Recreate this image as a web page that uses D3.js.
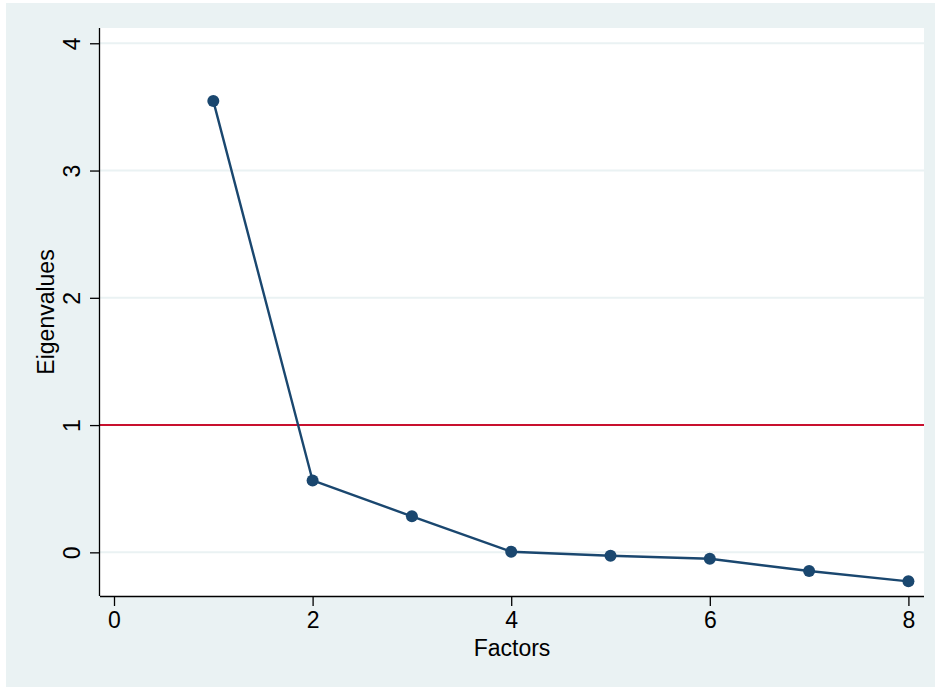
<!DOCTYPE html>
<html>
<head>
<meta charset="utf-8">
<script src="https://cdn.jsdelivr.net/npm/d3@7"></script>
<style>
  html, body { margin: 0; padding: 0; background: #ffffff; }
  svg { display: block; }
  text { font-family: "Liberation Sans", Arial, sans-serif; fill: #000; }
</style>
</head>
<body>
<svg id="chart" width="935" height="687"></svg>
<script>
// Scree plot of eigenvalues after factor analysis
const factors = [1, 2, 3, 4, 5, 6, 7, 8];
const eigenvalues = [3.547, 0.565, 0.283, 0.005, -0.027, -0.050, -0.147, -0.228];
const xTicks = [0, 2, 4, 6, 8];
const yTicks = [0, 1, 2, 3, 4];
const referenceLine = 1;

const W = 935, H = 687;
const plot = { left: 100, right: 924, top: 28, bottom: 596 };

const svg = d3.select("#chart");

// outer graph region
svg.append("rect")
  .attr("x", 6).attr("y", 3)
  .attr("width", W - 6).attr("height", H - 3)
  .attr("fill", "#eaf2f3");

// plot region
svg.append("rect")
  .attr("x", plot.left).attr("y", plot.top)
  .attr("width", plot.right - plot.left).attr("height", plot.bottom - plot.top)
  .attr("fill", "#ffffff");

const x = d3.scaleLinear().domain([-0.141, 8.157]).range([plot.left, plot.right]);
const y = d3.scaleLinear().domain([-0.343, 4.12]).range([plot.bottom, plot.top]);

// horizontal gridlines
svg.append("g")
  .selectAll("line")
  .data(yTicks)
  .join("line")
  .attr("x1", plot.left).attr("x2", plot.right)
  .attr("y1", d => y(d)).attr("y2", d => y(d))
  .attr("stroke", "#eaf2f3")
  .attr("stroke-width", 2);

// reference line at eigenvalue = 1
svg.append("line")
  .attr("x1", plot.left).attr("x2", plot.right)
  .attr("y1", y(referenceLine)).attr("y2", y(referenceLine))
  .attr("stroke", "#c8102e")
  .attr("stroke-width", 2);

// connected eigenvalues
const pts = factors.map((f, i) => [f, eigenvalues[i]]);
svg.append("path")
  .datum(pts)
  .attr("fill", "none")
  .attr("stroke", "#1a476f")
  .attr("stroke-width", 2.4)
  .attr("stroke-linejoin", "round")
  .attr("d", d3.line().x(d => x(d[0])).y(d => y(d[1])));

svg.append("g")
  .selectAll("circle")
  .data(pts)
  .join("circle")
  .attr("cx", d => x(d[0]))
  .attr("cy", d => y(d[1]))
  .attr("r", 6)
  .attr("fill", "#1a476f");

// axes
const xAxis = d3.axisBottom(x).tickValues(xTicks).tickSize(10).tickPadding(6).tickFormat(d3.format("d"));
const gx = svg.append("g").attr("transform", `translate(0,${plot.bottom})`).call(xAxis);
gx.select(".domain").attr("d", `M${plot.left},0.5H${plot.right}`).attr("stroke", "#000").attr("stroke-width", 1.3);
gx.selectAll(".tick line").attr("stroke", "#000").attr("stroke-width", 1.3);
gx.selectAll(".tick text")
  .attr("font-size", 23)
  .attr("font-family", "'Liberation Sans', Arial, sans-serif")
  .attr("fill", "#000");

const yAxis = d3.axisLeft(y).tickValues(yTicks).tickSize(10).tickPadding(9).tickFormat(d3.format("d"));
const gy = svg.append("g").attr("transform", `translate(${plot.left},0)`).call(yAxis);
gy.select(".domain").attr("d", `M-0.5,${plot.top}V${plot.bottom}`).attr("stroke", "#000").attr("stroke-width", 1.3);
gy.selectAll(".tick line").attr("stroke", "#000").attr("stroke-width", 1.3);
gy.selectAll(".tick text")
  .attr("font-size", 23)
  .attr("font-family", "'Liberation Sans', Arial, sans-serif")
  .attr("fill", "#000")
  .attr("x", null).attr("dy", null)
  .attr("text-anchor", "middle")
  .attr("transform", "translate(-20,0) rotate(-90)");

// axis titles
svg.append("text")
  .attr("x", (plot.left + plot.right) / 2)
  .attr("y", 656)
  .attr("text-anchor", "middle")
  .attr("font-size", 23)
  .text("Factors");

svg.append("text")
  .attr("transform", `translate(54,${(plot.top + plot.bottom) / 2}) rotate(-90)`)
  .attr("text-anchor", "middle")
  .attr("font-size", 23)
  .text("Eigenvalues");
</script>
</body>
</html>
